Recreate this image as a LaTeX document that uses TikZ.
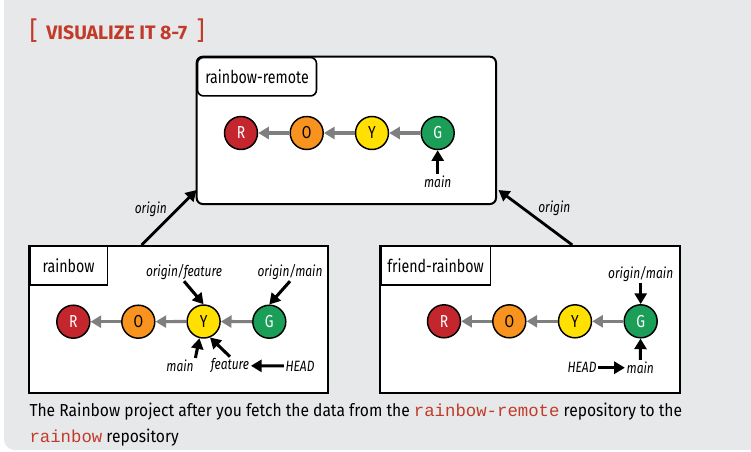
\documentclass[tikz,border=0pt]{standalone}
\usepackage{fontspec}
\setmainfont{Fira Sans}
\newfontfamily\condfont[FakeStretch=0.8]{Fira Sans}
\newfontfamily\capfont[FakeStretch=0.9]{Fira Sans}
\newfontfamily\codefont{Liberation Mono}
\usetikzlibrary{arrows.meta}

\definecolor{panelgray}{HTML}{E7E8EA}
\definecolor{titlered}{HTML}{C23B2A}
\definecolor{cRed}{HTML}{C4262E}
\definecolor{cOrange}{HTML}{F7931E}
\definecolor{cYellow}{HTML}{FFE000}
\definecolor{cGreen}{HTML}{1B9E57}
\definecolor{parentgray}{HTML}{7F7F7F}

\tikzset{every picture/.style={line width=0.75pt},
  commit/.style={circle, draw=black, line width=1.1pt, minimum size=24.75pt, inner sep=0pt,
    font=\condfont\fontsize{13}{14}\selectfont},
  parent/.style={draw=parentgray, line width=2.4pt, -{Triangle[length=8pt,width=9pt]}},
  ptr/.style={draw=black, line width=2.3pt, -{Triangle[length=8pt,width=9pt]}},
  ref/.style={inner sep=1pt, font=\condfont\itshape\fontsize{11.2}{12}\selectfont},
  repotab/.style={draw=black, line width=1.2pt, anchor=north west, inner xsep=5pt,
    minimum height=28.8pt, font=\condfont\fontsize{13.3}{15}\selectfont},
  repobox/.style={draw=black, fill=white, line width=1.5pt}}

\begin{document}
\begin{tikzpicture}[x=0.75pt,y=0.75pt,yscale=-1,xscale=1]
  \useasboundingbox (0,0) rectangle (751,451);

  %Shape: Panel
  \fill [panelgray, rounded corners=8pt] (4,-10) rectangle (780,450);

  % Text Node
  \node [anchor=west, inner sep=0pt, text=titlered, font=\fontsize{14.6}{16}\selectfont] (title) at (29,31)
    {{\fontsize{19}{20}\selectfont\raisebox{-0.5pt}{[}}\hspace{6.5pt}\textbf{VISUALIZE IT 8-7}\hspace{7pt}{\fontsize{19}{20}\selectfont\raisebox{-0.5pt}{]}}};

  %Shape: Rectangle rainbow-remote
  \draw [repobox, rounded corners=4.5pt] (196.7,56.7) rectangle (496,204);
  \node [repotab, rounded corners=4.5pt, minimum width=89.25pt] (remoteTab) at (196.7,56.7) {rainbow-remote};
  \coordinate (remoteL) at (196.5,190);
  \coordinate (remoteR) at (498.5,190);

  %Shape: Rectangle rainbow
  \draw [repobox] (29,245.7) rectangle (328,393);
  \node [repotab, minimum width=58.3pt] (rainbowTab) at (29,245.7) {rainbow};
  \coordinate (rainbowTop) at (141.7,245);

  %Shape: Rectangle friend-rainbow
  \draw [repobox] (380,245.7) rectangle (680,393);
  \node [repotab, minimum width=75.75pt] (friendTab) at (380,245.7) {friend-rainbow};
  \coordinate (friendTop) at (572.3,245);

  % origin arrows
  \draw [ptr, line width=2.1pt] (rainbowTop) -- (remoteL);
  \draw [ptr, line width=2.1pt] (friendTop) -- (remoteR);
  \node [ref] (originL) at (150.8,209) {origin};
  \node [ref] (originR) at (554.3,208.3) {origin};

  % rainbow-remote commits
  \node [commit, fill=cRed, text=white] (rR) at (241,133) {R};
  \node [commit, fill=cOrange] (rO) at (306.7,133) {O};
  \node [commit, fill=cYellow] (rY) at (372,133) {Y};
  \node [commit, fill=cGreen, text=white] (rG) at (437.7,133) {G};
  \draw [parent] (rO) -- (rR);
  \draw [parent] (rY) -- (rO);
  \draw [parent] (rG) -- (rY);
  \node [ref] (rMain) at (437.7,181.7) {main};
  \draw [ptr] (rMain) -- (rG);

  % rainbow commits
  \node [commit, fill=cRed, text=white] (rbR) at (73.3,321.7) {R};
  \node [commit, fill=cOrange] (rbO) at (138.3,321.7) {O};
  \node [commit, fill=cYellow] (rbY) at (203.6,321.5) {Y};
  \node [commit, fill=cGreen, text=white] (rbG) at (269.3,321.7) {G};
  \draw [parent] (rbO) -- (rbR);
  \draw [parent] (rbY) -- (rbO);
  \draw [parent] (rbG) -- (rbY);
  \node [ref] (rbOFeat) at (184,271.7) {origin/feature};
  \node [ref] (rbOMain) at (290,271.7) {origin/main};
  \node [ref] (rbMain) at (180,365.7) {main};
  \node [ref] (rbFeat) at (230,365.7) {feature};
  \node [ref] (rbHead) at (300,366) {HEAD};
  \draw [ptr] (rbOFeat.south) -- (rbY.north);
  \draw [ptr] (rbOMain.south) -- (rbG.north);
  \draw [ptr] (rbMain.north east) -- (rbY.256);
  \draw [ptr] (rbFeat.north) -- (rbY.292);
  \draw [ptr] (rbHead) -- (rbFeat);

  % friend-rainbow commits
  \node [commit, fill=cRed, text=white] (fR) at (444,321.3) {R};
  \node [commit, fill=cOrange] (fO) at (509.3,321.3) {O};
  \node [commit, fill=cYellow] (fY) at (575,321.3) {Y};
  \node [commit, fill=cGreen, text=white] (fG) at (640.7,321.3) {G};
  \draw [parent] (fO) -- (fR);
  \draw [parent] (fY) -- (fO);
  \draw [parent] (fG) -- (fY);
  \node [ref] (fOMain) at (640.7,273.7) {origin/main};
  \node [ref] (fMain) at (640.3,367.7) {main};
  \node [ref] (fHead) at (582,367.7) {HEAD};
  \draw [ptr] (fOMain) -- (fG);
  \draw [ptr] (fMain) -- (fG);
  \draw [ptr] (fHead) -- (fMain);

  % Text Node caption
  \node [anchor=base west, inner sep=0pt, font=\capfont\fontsize{13}{15}\selectfont] (cap1) at (29,416.7)
    {The Rainbow project after you fetch the data from the {\codefont\color{titlered}rainbow-remote} repository to the};
  \node [anchor=base west, inner sep=0pt, font=\capfont\fontsize{13}{15}\selectfont] (cap2) at (29,442.4)
    {{\codefont\color{titlered}rainbow} repository};
\end{tikzpicture}
\end{document}
